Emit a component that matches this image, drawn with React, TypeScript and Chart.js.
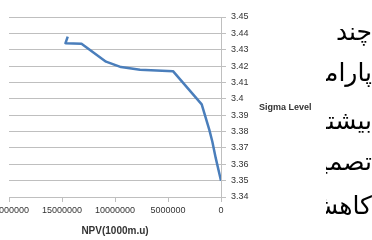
import React, { useEffect, useRef } from "react";
import { Chart, registerables } from "chart.js";

Chart.register(...registerables);

// NPV (1000 m.u.) values along the curve
const npvValues = [14460000, 14670000, 13160000, 10850000, 9430000, 7640000, 4530000, 1820000, 1100000, 820000, 500000, 0];
// Sigma level values along the curve
const sigmaValues = [3.438, 3.434, 3.4337, 3.4227, 3.4194, 3.4178, 3.4169, 3.3966, 3.381, 3.3739, 3.3639, 3.35];

const xMin = 0;
const xMax = 20000000;
const xStep = 5000000;
const yMin = 3.34;
const yMax = 3.45;
const yStep = 0.01;

const xTitle = "NPV(1000m.u)";
const yTitle = "Sigma Level";
const sideLines = ["چند", "پارامتر", "بیشتر", "تصمیم", "کاهش"];
const sideTops = [15, 56, 104, 145, 189];

const FONT = "'Liberation Sans', Arial, sans-serif";

export default function App() {
  const canvasRef = useRef<HTMLCanvasElement | null>(null);

  useEffect(() => {
    const canvas = canvasRef.current;
    if (!canvas) return;
    const points = npvValues.map((x, i) => ({ x, y: sigmaValues[i] }));
    const chart = new Chart(canvas, {
      type: "scatter",
      data: {
        datasets: [
          {
            data: points,
            showLine: true,
            borderColor: "#4A7EBB",
            backgroundColor: "#4A7EBB",
            borderWidth: 2.5,
            pointRadius: 0,
            tension: 0,
            borderJoinStyle: "round",
          },
        ],
      },
      options: {
        responsive: false,
        animation: false,
        devicePixelRatio: 1,
        layout: { padding: { left: 49, right: 111, top: 17, bottom: 0 } },
        plugins: { legend: { display: false }, tooltip: { enabled: false } },
        scales: {
          x: {
            type: "linear",
            position: "bottom",
            reverse: true,
            min: xMin,
            max: xMax,
            afterFit: (s: any) => {
              s.height = 43;
            },
            ticks: {
              stepSize: xStep,
              autoSkip: false,
              maxRotation: 0,
              padding: 3,
              color: "#333333",
              font: { family: FONT, size: 9 },
              callback: (v: any) => String(Math.round(Number(v))),
            },
            grid: {
              drawOnChartArea: false,
              drawTicks: true,
              tickLength: 5,
              color: "#bfbfbf",
            },
            border: { display: true, color: "#bfbfbf" },
            title: {
              display: true,
              text: xTitle,
              color: "#333333",
              font: { family: FONT, size: 10, weight: "bold" },
              padding: { top: 0, bottom: 3 },
            },
          },
          y: {
            type: "linear",
            position: "right",
            min: yMin,
            max: yMax,
            afterFit: (s: any) => {
              s.width = 40;
            },
            ticks: {
              stepSize: yStep,
              autoSkip: false,
              padding: 5,
              color: "#333333",
              font: { family: FONT, size: 9 },
              callback: (v: any) => String(parseFloat(Number(v).toFixed(2))),
            },
            grid: {
              drawTicks: true,
              tickLength: 5,
              color: "#bfbfbf",
            },
            border: { display: true, color: "#bfbfbf" },
          },
        },
      } as any,
    });
    return () => chart.destroy();
  }, []);

  return (
    <div style={{ position: "absolute", left: 0, top: 0, width: 372, height: 240, overflow: "hidden", background: "#ffffff" }}>
      <div style={{ position: "absolute", left: -40, top: 0, width: 412, height: 240 }}>
        <canvas ref={canvasRef} width={412} height={240} style={{ display: "block", width: 412, height: 240 }} />
      </div>
      <div
        style={{
          position: "absolute",
          left: 259,
          top: 101,
          fontFamily: FONT,
          fontSize: 9,
          fontWeight: "bold",
          lineHeight: "12px",
          color: "#333333",
          whiteSpace: "nowrap",
        }}
      >
        {yTitle}
      </div>
      <div style={{ position: "absolute", left: 326, top: 0, width: 46, height: 240, overflow: "hidden" }}>
        {sideLines.map((t, i) => (
          <div
            key={i}
            dir="rtl"
            style={{
              position: "absolute",
              right: 0,
              top: sideTops[i],
              fontFamily: "'DejaVu Sans', 'Noto Sans', sans-serif",
              fontSize: 25,
              lineHeight: "34px",
              color: "#000000",
              whiteSpace: "nowrap",
              direction: "rtl",
            }}
          >
            {t}
          </div>
        ))}
      </div>
    </div>
  );
}
